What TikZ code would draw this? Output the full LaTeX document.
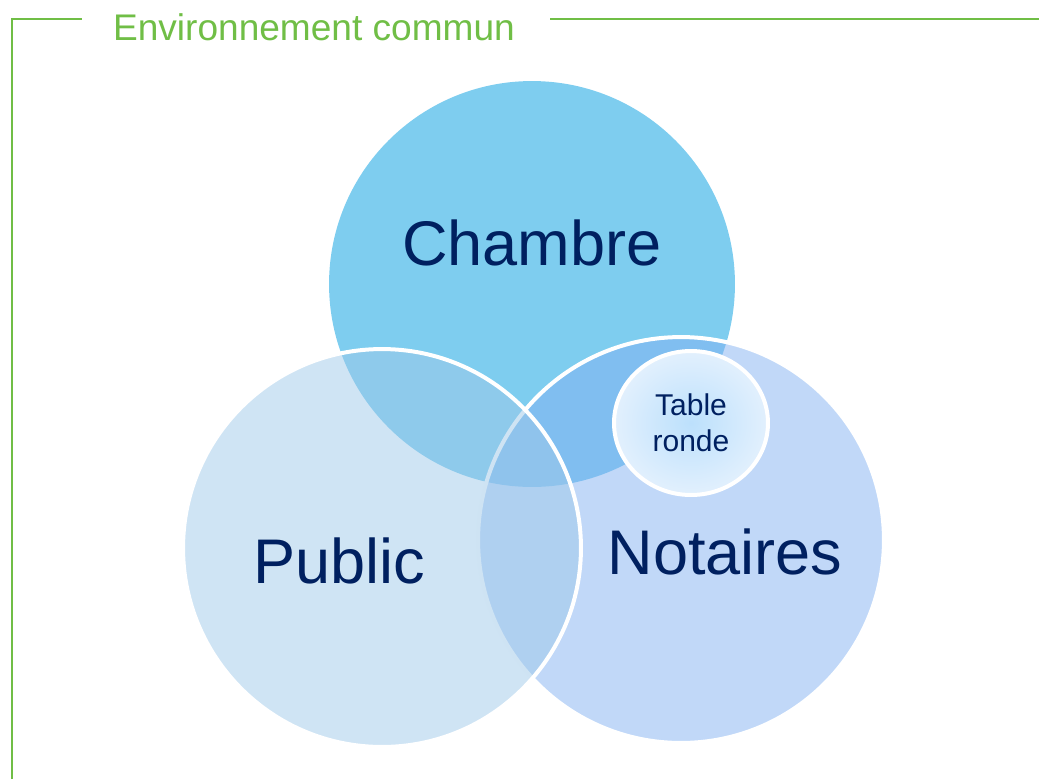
\documentclass[tikz,border=0pt]{standalone}
\usepackage{fontspec}
\setmainfont{Liberation Sans}
\usepackage{tikz}
\usetikzlibrary{positioning,shapes.geometric}

\definecolor{chambreblue}{RGB}{126,205,239}
\definecolor{notaireblue}{RGB}{131,177,241}
\definecolor{publicblue}{RGB}{159,201,233}
\definecolor{tableinner}{RGB}{188,224,252}
\definecolor{tableouter}{RGB}{226,240,253}
\definecolor{labelnavy}{RGB}{0,32,96}
\definecolor{envgreen}{RGB}{112,190,70}

\begin{document}
\begin{tikzpicture}[x=0.02cm, y=-0.02cm,
    set/.style={circle, inner sep=0pt, outer sep=0pt},
    overlay set/.style={set, draw=white, line width=0.08cm, fill opacity=0.5},
    setlabel/.style={text=labelnavy, font=\fontsize{35.9}{43}\selectfont, anchor=base},
    tablebox/.style={ellipse, draw=white, line width=0.08cm, inner sep=0pt,
        minimum width=3.08cm, minimum height=2.88cm, shading=radial,
        inner color=tableinner, outer color=tableouter, align=center,
        text=labelnavy, font=\fontsize{17.1}{20.5}\selectfont},
    frameline/.style={draw=envgreen, line width=0.04cm}]
    \useasboundingbox (0,0) rectangle (1039,779);

    % Common environment frame
    \coordinate (framebottom) at (12,779);
    \coordinate (framecorner) at (12,19);
    \coordinate (frametitleleft) at (82,19);
    \coordinate (frametitleright) at (550,19);
    \coordinate (frameright) at (1039,19);
    \draw [frameline] (framebottom) -- (framecorner) -- (frametitleleft);
    \draw [frameline] (frametitleright) -- (frameright);
    \node [anchor=base, text=envgreen, font=\fontsize{21.1}{25}\selectfont] (envtitle) at (314,40) {Environnement commun};

    % The three sets
    \node [set, fill=chambreblue, minimum size=8.12cm] (chambre) at (532,284) {};
    \node [overlay set, fill=notaireblue, minimum size=8.12cm] (notaires) at (681,540) {};
    \node [overlay set, fill=publicblue, minimum size=7.96cm] (public) at (382,548) {};

    % Round table inside the notaries
    \node [tablebox] (table) at (691,423) {Table\\ronde};

    % Set names
    \node [setlabel] (chambrelabel) at (532,265) {Chambre};
    \node [setlabel] (publiclabel) at (339,583) {Public};
    \node [setlabel] (notaireslabel) at (725,574) {Notaires};
\end{tikzpicture}
\end{document}
